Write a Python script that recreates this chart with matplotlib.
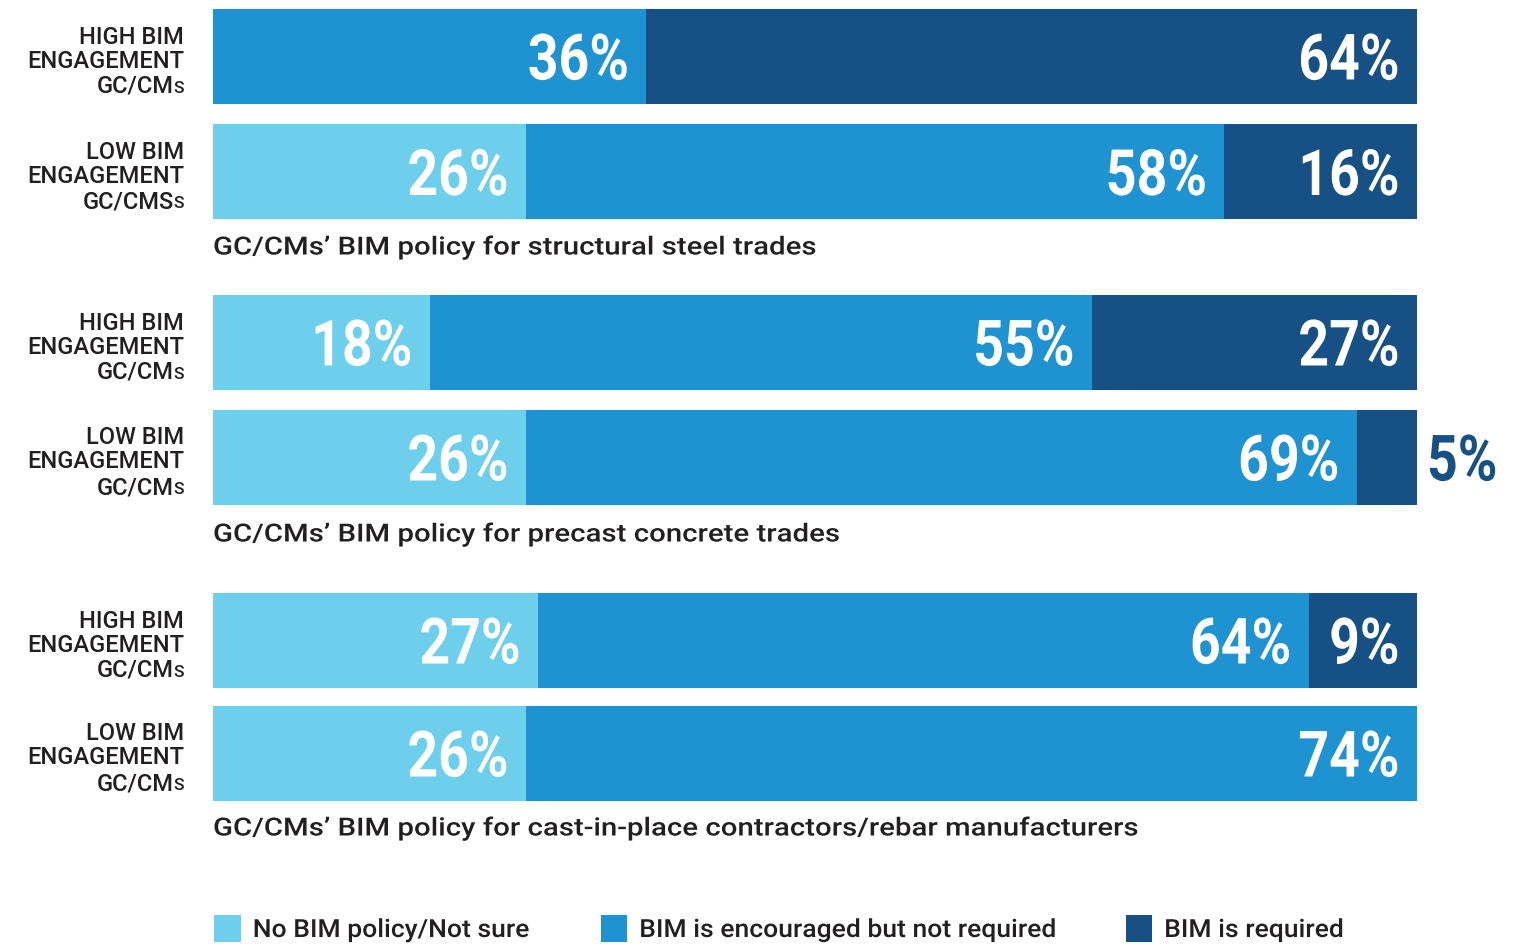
import matplotlib
matplotlib.use("Agg")
import matplotlib.pyplot as plt
from matplotlib.patches import Rectangle
from matplotlib.transforms import offset_copy, Affine2D
from matplotlib.patheffects import AbstractPathEffect

# segment shares per bar, top to bottom
row_groups = ["HIGH", "LOW", "HIGH", "LOW", "HIGH", "LOW"]
no_policy = [0, 26, 18, 26, 27, 26]
encouraged = [36, 58, 55, 69, 64, 74]
required = [64, 16, 27, 5, 9, 0]
captions = [
    "GC/CMs’ BIM policy for structural steel trades",
    "GC/CMs’ BIM policy for precast concrete trades",
    "GC/CMs’ BIM policy for cast-in-place contractors/rebar manufacturers",
]
legend_labels = ["No BIM policy/Not sure", "BIM is encouraged but not required", "BIM is required"]

colors = ["#6dcfec", "#1f92d1", "#165085"]
ink = "#231f20"
font = ["Roboto", "DejaVu Sans"]


class Stretch(AbstractPathEffect):
    """Scale glyphs horizontally (condensed/extended look), keeping one edge fixed."""

    def __init__(self, sx, keep="left"):
        super().__init__()
        self.sx = sx
        self.keep = keep

    def draw_path(self, renderer, gc, tpath, affine, rgbFace=None):
        pre = Affine2D().scale(self.sx, 1)
        if self.keep == "right":
            w = tpath.get_extents().x1
            pre = pre.translate((1 - self.sx) * w, 0)
        renderer.draw_path(gc, tpath, pre + affine, rgbFace)


# layout (pixels, y downward)
bar_y = [57, 172.5, 343, 458, 641, 754]
bar_h = 95
caption_y = [248, 535, 829]

W, H = 1522, 945
fig = plt.figure(figsize=(W / 100, H / 100), dpi=100)
ax = fig.add_axes([213 / W, 0, 1204 / W, 1])
ax.set_xlim(0, 100)
ax.set_ylim(H, 0)
ax.axis("off")

inside = offset_copy(ax.transData, fig=fig, x=-17, y=0, units="dots")
outside = offset_copy(ax.transData, fig=fig, x=10, y=0, units="dots")
squeeze_r = [Stretch(0.84, "right")]
squeeze_l = [Stretch(0.84, "left")]

series = [no_policy, encouraged, required]
for i, y in enumerate(bar_y):
    left = 0
    for k, vals in enumerate(series):
        v = vals[i]
        if v == 0:
            continue
        ax.barh(y, v, left=left, height=bar_h, color=colors[k], linewidth=0)
        if v >= 9:
            ax.text(left + v, y + 6, f"{v}%", transform=inside, ha="right", va="center",
                    color="white", fontsize=46, fontweight="bold", family=font,
                    path_effects=squeeze_r)
        else:
            ax.text(left + v, y + 6, f"{v}%", transform=outside, ha="left", va="center",
                    color=colors[2], fontsize=46, fontweight="bold", family=font,
                    path_effects=squeeze_l)
        left += v

# row labels on the left
lab_tr = offset_copy(ax.transData, fig=fig, x=-29, y=0, units="dots")
small_tr = offset_copy(ax.transData, fig=fig, x=-39, y=0, units="dots")
for i, y in enumerate(bar_y):
    ax.text(0, y - 20, f"{row_groups[i]} BIM", transform=lab_tr, ha="right", va="center",
            color=ink, fontsize=17, fontweight="medium", family=font)
    ax.text(0, y + 4, "ENGAGEMENT", transform=lab_tr, ha="right", va="center",
            color=ink, fontsize=17, fontweight="medium", family=font)
    main = "GC/CMS" if i == 1 else "GC/CM"
    ax.text(0, y + 36, "S", transform=lab_tr, ha="right", va="baseline",
            color=ink, fontsize=12.5, fontweight="medium", family=font)
    ax.text(0, y + 36, main, transform=small_tr, ha="right", va="baseline",
            color=ink, fontsize=17, fontweight="medium", family=font)

for c, y in zip(captions, caption_y):
    ax.text(0, y, c, ha="left", va="center", color=ink, fontsize=18, fontweight="medium",
            family=font, path_effects=[Stretch(1.175)])

# legend
leg_x = [0, 32.1, 75.7]
for x, lab, col in zip(leg_x, legend_labels, colors):
    ax.add_patch(Rectangle((x + 0.1, 916), 2.2, 27, color=col, linewidth=0, clip_on=False))
    ax.text(x + 3.3, 931, lab, ha="left", va="center", color=ink, fontsize=18,
            fontweight="medium", family=font, path_effects=[Stretch(1.06)])

fig.savefig("out.png", dpi=100)
